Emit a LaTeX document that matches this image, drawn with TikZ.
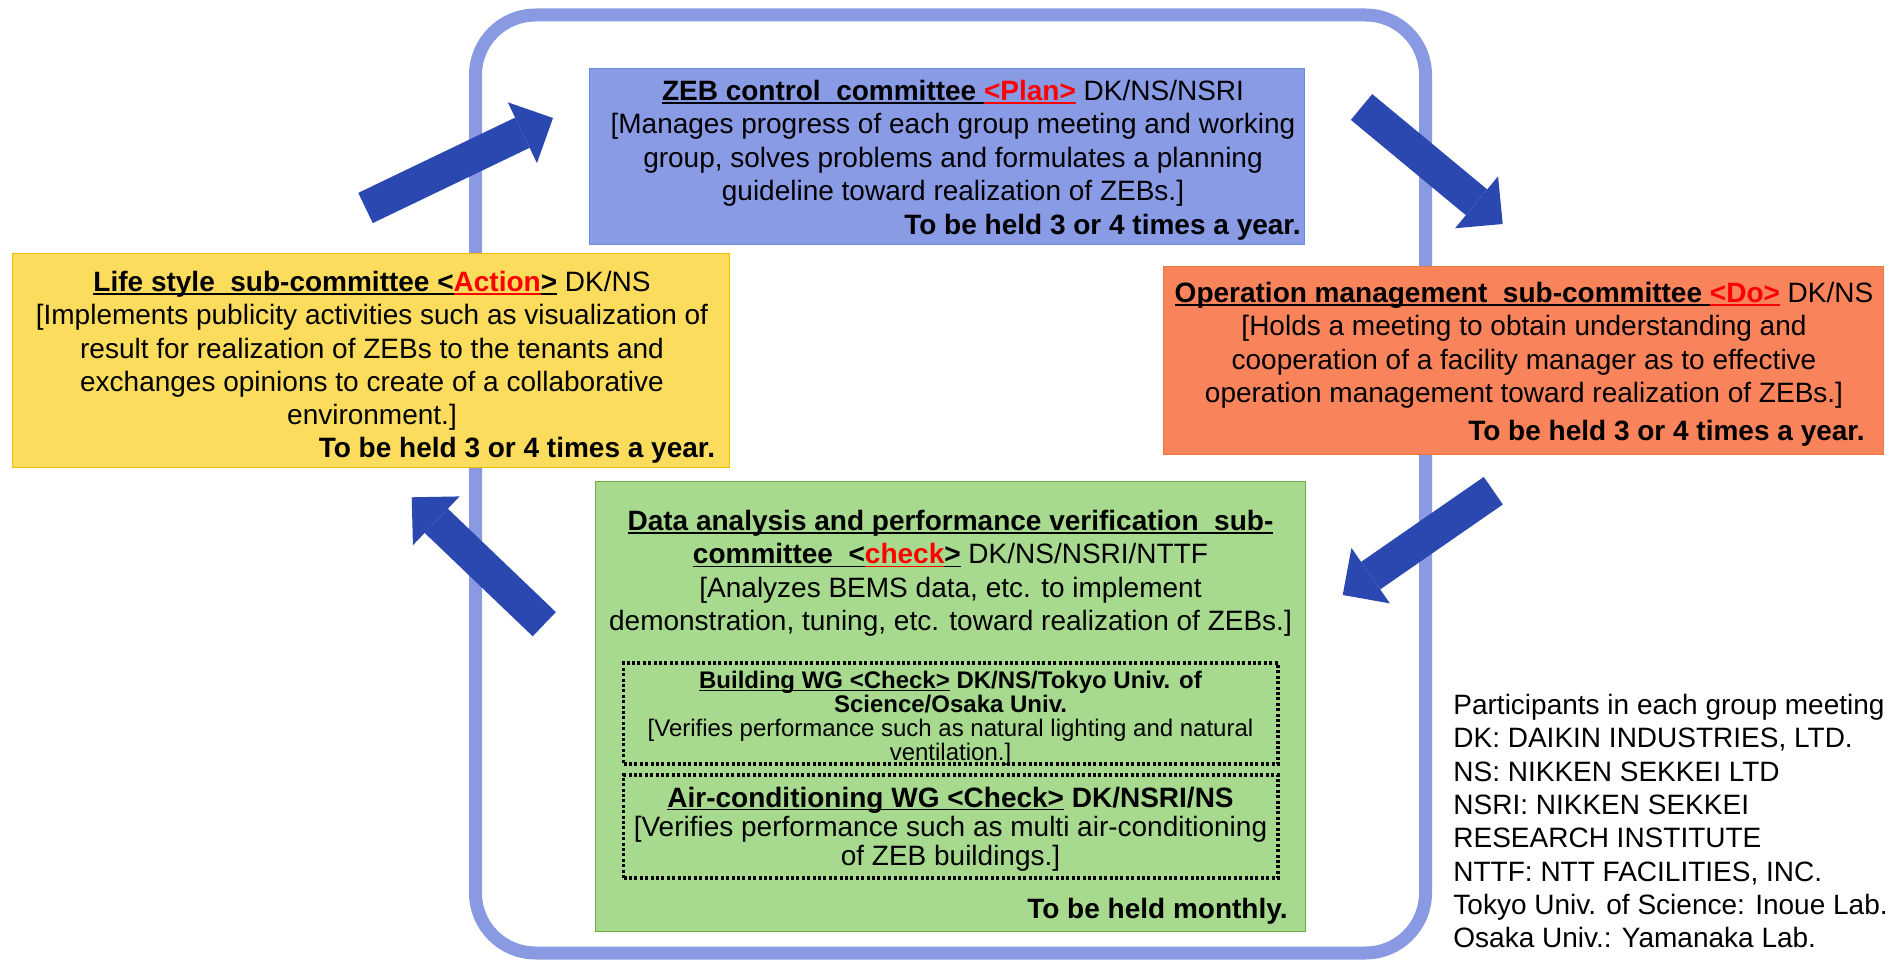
\documentclass[tikz,border=0pt]{standalone}
\usepackage{fontspec}
\setmainfont{Liberation Sans}
\usetikzlibrary{arrows.meta}
\definecolor{frameblue}{RGB}{137,154,226}
\definecolor{zebfill}{RGB}{138,155,230}
\definecolor{zebdraw}{RGB}{110,140,222}
\definecolor{lifefill}{RGB}{252,220,92}
\definecolor{lifedraw}{RGB}{240,190,0}
\definecolor{opfill}{RGB}{249,131,91}
\definecolor{opdraw}{RGB}{237,120,60}
\definecolor{datafill}{RGB}{167,218,142}
\definecolor{datadraw}{RGB}{112,173,71}
\definecolor{arrowblue}{RGB}{43,72,176}
\newcommand{\myul}[1]{\setbox0\hbox{#1}\rlap{\rule[-1.7pt]{\wd0}{0.9pt}}\box0\relax}
\tikzset{
  boxst/.style={rectangle, inner sep=0pt, line width=0.5pt},
  wgst/.style={rectangle, inner sep=0pt, draw=black, line width=1.75pt, dash pattern=on 1.5pt off 1.2pt},
  txt/.style={anchor=base, inner sep=0pt, font=\fontsize{14}{16}\selectfont},
  txtr/.style={anchor=base east, inner sep=0pt, font=\fontsize{14}{16}\selectfont\bfseries},
  txts/.style={anchor=base, inner sep=0pt, font=\fontsize{12}{13}\selectfont},
  txtl/.style={anchor=base west, inner sep=0pt, font=\fontsize{14}{16}\selectfont},
  arrowst/.style={line width=16.75pt, draw=arrowblue, -{Triangle[width=33.75pt,length=17pt,line width=0pt]}},
}
\begin{document}
\begin{tikzpicture}[x=0.5pt, y=-0.5pt]
\useasboundingbox (0,0) rectangle (1899,961);
% frame
\draw[frameblue, line width=6.5pt, rounded corners=30pt] (475.5,15) rectangle (1425.5,953);
% boxes
\node[boxst, fill=zebfill, draw=zebdraw, minimum width=357.5pt, minimum height=88pt] (plan) at (946.5,157) {};
\node[boxst, fill=lifefill, draw=lifedraw, minimum width=358.5pt, minimum height=107pt] (action) at (370.5,361) {};
\node[boxst, fill=opfill, draw=opdraw, minimum width=360pt, minimum height=94pt] (do) at (1523,361) {};
\node[boxst, fill=datafill, draw=datadraw, minimum width=355pt, minimum height=224.5pt] (check) at (950.5,706.5) {};
\node[wgst, minimum width=327.25pt, minimum height=50.5pt] (wg1) at (950.75,713.5) {};
\node[wgst, minimum width=327.25pt, minimum height=51.5pt] (wg2) at (950.75,826.5) {};
% arrows
\coordinate (a1s) at (365.5,208);
\coordinate (a1e) at (553,118);
\coordinate (a2s) at (1361.5,107);
\coordinate (a2e) at (1502.7,224);
\coordinate (a3s) at (1493.3,490.7);
\coordinate (a3e) at (1342.7,595);
\coordinate (a4s) at (544.3,624.2);
\coordinate (a4e) at (411.7,497.3);
\draw[arrowst] (a1s) -- (a1e);
\draw[arrowst] (a2s) -- (a2e);
\draw[arrowst] (a3s) -- (a3e);
\draw[arrowst] (a4s) -- (a4e);
% ZEB text
\node[txt] (p1) at (953,100.5) {\myul{\bfseries ZEB control\ \ committee }\textcolor{red}{\myul{\bfseries <Plan>}} DK/NS/NSRI};
\node[txt] (p2) at (953,134) {[Manages progress of each group meeting and working};
\node[txt] (p3) at (953,167.5) {group, solves problems and formulates a planning};
\node[txt] (p4) at (953,201) {guideline toward realization of ZEBs.]};
\node[txtr] (p5) at (1301,235) {To be held 3 or 4 times a year.};
% Life style text
\node[txt] (l1) at (372,291.5) {\myul{\bfseries Life style\ \ sub-committee <}\textcolor{red}{\myul{\bfseries Action}}\myul{\bfseries >} DK/NS};
\node[txt] (l2) at (372,325) {[Implements publicity activities such as visualization of};
\node[txt] (l3) at (372,358.5) {result for realization of ZEBs to the tenants and};
\node[txt] (l4) at (372,392) {exchanges opinions to create of a collaborative};
\node[txt] (l5) at (372,425) {environment.]};
\node[txtr] (l6) at (715.5,457.5) {To be held 3 or 4 times a year.};
% Operation text
\node[txt] (o1) at (1524,302.5) {\myul{\bfseries Operation management\ \ sub-committee }\textcolor{red}{\myul{\bfseries <Do>}} DK/NS};
\node[txt] (o2) at (1524,336) {[Holds a meeting to obtain understanding and};
\node[txt] (o3) at (1524,369.5) {cooperation of a facility manager as to effective};
\node[txt] (o4) at (1524,403) {operation management toward realization of ZEBs.]};
\node[txtr] (o5) at (1865,440.5) {To be held 3 or 4 times a year.};
% Data text
\node[txt] (d1) at (950.5,530.5) {\myul{\bfseries Data analysis and performance verification\ \ sub-}};
\node[txt] (d2) at (950.5,564) {\myul{\bfseries committee\ \ <}\textcolor{red}{\myul{\bfseries check}}\myul{\bfseries >} DK/NS/NSRI/NTTF};
\node[txt] (d3) at (950.5,597.5) {[Analyzes BEMS data, etc. to implement};
\node[txt] (d4) at (950.5,631) {demonstration, tuning, etc. toward realization of ZEBs.]};
\node[txts] (b1) at (950.5,688) {\myul{\bfseries Building WG <Check>}\textbf{ DK/NS/Tokyo Univ. of}};
\node[txts] (b2) at (950.5,712) {\textbf{Science/Osaka Univ.}};
\node[txts] (b3) at (950.5,736.5) {[Verifies performance such as natural lighting and natural};
\node[txts] (b4) at (950.5,760) {ventilation.]};
\node[txt] (c1) at (950.5,807) {\myul{\bfseries Air-conditioning WG <Check>}\textbf{ DK/NSRI/NS}};
\node[txt] (c2) at (950.5,836.5) {[Verifies performance such as multi air-conditioning};
\node[txt] (c3) at (950.5,865) {of ZEB buildings.]};
\node[txtr] (d5) at (1288,918) {To be held monthly.};
% participants
\node[txtl] (q1) at (1453,714) {Participants in each group meeting};
\node[txtl] (q2) at (1453,747.5) {DK: DAIKIN INDUSTRIES, LTD.};
\node[txtl] (q3) at (1453,781) {NS: NIKKEN SEKKEI LTD};
\node[txtl] (q4) at (1453,814) {NSRI: NIKKEN SEKKEI};
\node[txtl] (q5) at (1453,847.5) {RESEARCH INSTITUTE};
\node[txtl] (q6) at (1453,881) {NTTF: NTT FACILITIES, INC.};
\node[txtl] (q7) at (1453,914) {Tokyo Univ. of Science: Inoue Lab.};
\node[txtl] (q8) at (1453,947.5) {Osaka Univ.: Yamanaka Lab.};
\end{tikzpicture}
\end{document}
